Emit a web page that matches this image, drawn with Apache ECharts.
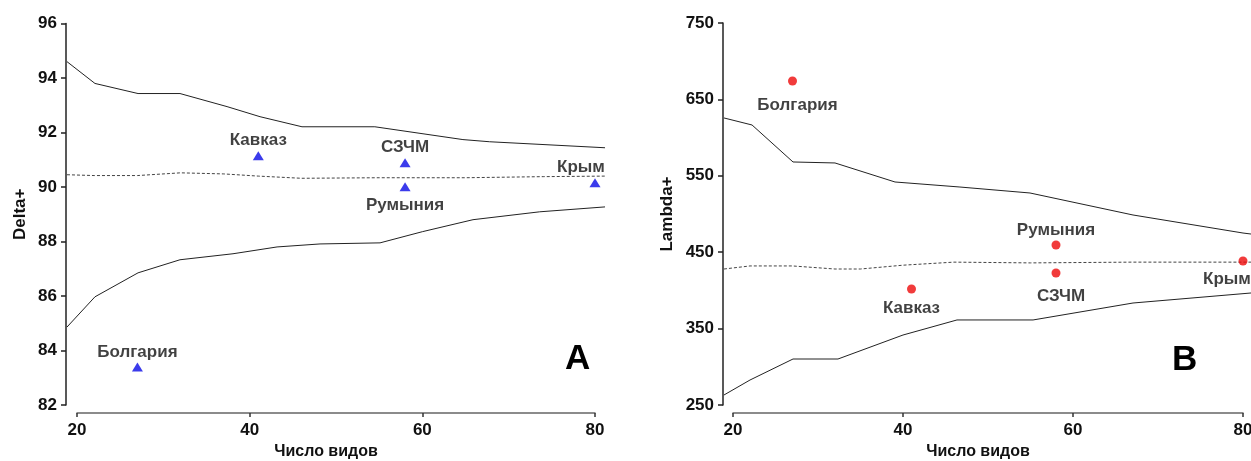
<!DOCTYPE html>
<html>
<head>
<meta charset="utf-8">
<title>Delta+ / Lambda+</title>
<script src="https://cdn.jsdelivr.net/npm/echarts@6/dist/echarts.min.js"></script>
<style>
    html, body { margin: 0; padding: 0; background: #fff; }
    #main { width: 1251px; height: 461px; }
</style>
</head>
<body>
<div id="main"></div>
<script>
// ---- данные ----
// A: Delta+
var deltaUpX = [18.84, 22.08, 27.07, 31.93, 37.38, 41.2, 46.06, 54.5, 64.7, 67.8, 81.16];
var deltaUpY = [94.6, 93.8, 93.43, 93.43, 92.95, 92.58, 92.21, 92.21, 91.74, 91.66, 91.44];
var deltaLoX = [18.84, 22.08, 27.07, 31.93, 38.07, 43.17, 48.15, 55.1, 60, 65.87, 73.6, 81.16];
var deltaLoY = [84.86, 85.97, 86.85, 87.33, 87.55, 87.8, 87.91, 87.95, 88.36, 88.8, 89.09, 89.27];
var deltaMeanX = [18.84, 22, 27, 32, 37, 41, 46, 55, 65, 74, 81.16];
var deltaMeanY = [90.45, 90.42, 90.42, 90.52, 90.48, 90.4, 90.32, 90.34, 90.34, 90.38, 90.4];
var deltaNames = ['Болгария', 'Кавказ', 'СЗЧМ', 'Румыния', 'Крым'];
var deltaX = [27, 41, 58, 58, 80];
var deltaY = [83.39, 91.15, 90.89, 90.01, 90.16];

// B: Lambda+
var lambdaUpX = [18.94, 22.24, 27.06, 32.0, 39.06, 46.7, 54.94, 67.06, 80, 80.94];
var lambdaUpY = [625.7, 616.5, 568.1, 566.8, 541.9, 535.3, 527.5, 498.7, 475.1, 473.8];
var lambdaLoX = [18.94, 22.0, 27.06, 32.35, 40, 46.35, 55.3, 67.06, 80.94];
var lambdaLoY = [263.1, 282.7, 310.2, 310.2, 341.6, 361.3, 361.3, 383.5, 396.6];
var lambdaMeanX = [18.94, 22, 27, 32, 35, 40, 46, 55, 67, 80.94];
var lambdaMeanY = [428, 432, 432, 428, 428, 433, 437, 436, 437, 437];
var lambdaNames = ['Болгария', 'Кавказ', 'Румыния', 'СЗЧМ', 'Крым'];
var lambdaX = [27, 41, 58, 58, 80];
var lambdaY = [674.1, 401.8, 459.4, 422.8, 438.5];

// подписи точек: [сторона, сдвиг по x, сдвиг по y]
var deltaLabelPos = {'Болгария': ['top', 0, 0], 'Кавказ': ['top', 0, 0], 'СЗЧМ': ['top', 0, 0], 'Румыния': ['bottom', 0, 4], 'Крым': ['top', -14, 0]};
var lambdaLabelPos = {'Болгария': ['bottom', 5, 9], 'Кавказ': ['bottom', 0, 4], 'Румыния': ['top', 0, 0], 'СЗЧМ': ['bottom', 5, 8], 'Крым': ['bottom', -16, 3]};

var FONT = 'Liberation Sans, Arial, sans-serif';

function pairs(xs, ys) {
    var out = [];
    for (var i = 0; i < xs.length; i++) out.push([xs[i], ys[i]]);
    return out;
}

function points(names, xs, ys, pos) {
    var out = [];
    for (var i = 0; i < names.length; i++) {
        var p = pos[names[i]];
        out.push({
            name: names[i],
            value: [xs[i], ys[i]],
            label: {position: p[0], offset: [p[1], p[2]]}
        });
    }
    return out;
}

function lineSeries(idx, data, dashed) {
    return {
        type: 'line',
        xAxisIndex: idx,
        yAxisIndex: idx,
        data: data,
        showSymbol: false,
        silent: true,
        lineStyle: {
            color: dashed ? '#444' : '#222',
            width: 1,
            type: dashed ? [3, 2] : 'solid'
        },
        z: 2
    };
}

// видимая ось X (сдвинута вниз и начинается с 20, как на рисунке)
function xAxisShown(gridIdx) {
    return {
        type: 'value',
        gridIndex: gridIdx,
        min: 20, max: 80, interval: 20,
        offset: 8,
        name: 'Число видов',
        nameLocation: 'middle',
        nameGap: 31,
        nameTextStyle: {fontFamily: FONT, fontWeight: 'bold', fontSize: 16, color: '#111', padding: [0, 20, 0, 0]},
        axisLine: {onZero: false, lineStyle: {color: '#666', width: 1.5}},
        axisTick: {length: 4, lineStyle: {color: '#333', width: 1.5}},
        axisLabel: {fontFamily: FONT, fontWeight: 'bold', fontSize: 17, color: '#111', margin: 9},
        splitLine: {show: false}
    };
}

// скрытая ось X для данных (чуть шире, линии доходят до оси Y)
function xAxisData(gridIdx, min, max) {
    return {type: 'value', gridIndex: gridIdx, min: min, max: max, show: false, splitLine: {show: false}};
}

function yAxisOpt(gridIdx, name, min, max, interval, gap) {
    return {
        type: 'value',
        gridIndex: gridIdx,
        min: min, max: max, interval: interval,
        name: name,
        nameLocation: 'middle',
        nameGap: gap,
        nameRotate: 90,
        nameTextStyle: {fontFamily: FONT, fontWeight: 'bold', fontSize: 17, color: '#111'},
        axisLine: {show: true, lineStyle: {color: '#222', width: 1.5}},
        axisTick: {show: true, length: 5, lineStyle: {color: '#222', width: 1.5}},
        axisLabel: {fontFamily: FONT, fontWeight: 'bold', fontSize: 17, color: '#111', margin: 9},
        splitLine: {show: false}
    };
}

function yAxisHidden(gridIdx) {
    return {type: 'value', gridIndex: gridIdx, min: 0, max: 1, show: false, splitLine: {show: false}};
}

var myChart = echarts.init(document.getElementById('main'), null, {renderer: 'canvas'});

var option = {
    backgroundColor: '#fff',
    animation: false,
    grid: [
        {left: 66, width: 540, top: 23.5, height: 381.5, outerBoundsMode: 'none'},   // A, данные
        {left: 723, width: 528, top: 23, height: 382, outerBoundsMode: 'none'},      // B, данные
        {left: 77, width: 518, top: 23.5, height: 381.5, outerBoundsMode: 'none'},   // A, ось X
        {left: 733, width: 510, top: 23, height: 382, outerBoundsMode: 'none'}       // B, ось X
    ],
    xAxis: [
        xAxisData(0, 18.726, 81.274),
        xAxisData(1, 18.824, 80.941),
        xAxisShown(2),
        xAxisShown(3)
    ],
    yAxis: [
        yAxisOpt(0, 'Delta+', 82, 96, 2, 37),
        yAxisOpt(1, 'Lambda+', 250, 750, 100, 47),
        yAxisHidden(2),
        yAxisHidden(3)
    ],
    graphic: [
        {type: 'text', left: 565, top: 342, style: {text: 'A', font: 'bold 35px ' + FONT, fill: '#000'}},
        {type: 'text', left: 1172, top: 343, style: {text: 'B', font: 'bold 35px ' + FONT, fill: '#000'}}
    ],
    series: [
        lineSeries(0, pairs(deltaUpX, deltaUpY), false),
        lineSeries(0, pairs(deltaLoX, deltaLoY), false),
        lineSeries(0, pairs(deltaMeanX, deltaMeanY), true),
        {
            type: 'scatter',
            xAxisIndex: 0, yAxisIndex: 0,
            symbol: 'triangle',
            symbolSize: [11, 9],
            itemStyle: {color: '#0a0ae6'},
            data: points(deltaNames, deltaX, deltaY, deltaLabelPos),
            label: {show: true, formatter: '{b}', fontFamily: FONT, fontWeight: 'bold', fontSize: 17, color: '#111', distance: 2},
            z: 3
        },
        lineSeries(1, pairs(lambdaUpX, lambdaUpY), false),
        lineSeries(1, pairs(lambdaLoX, lambdaLoY), false),
        lineSeries(1, pairs(lambdaMeanX, lambdaMeanY), true),
        {
            type: 'scatter',
            xAxisIndex: 1, yAxisIndex: 1,
            symbol: 'circle',
            symbolSize: 9,
            itemStyle: {color: '#ee0a0a'},
            data: points(lambdaNames, lambdaX, lambdaY, lambdaLabelPos),
            label: {show: true, formatter: '{b}', fontFamily: FONT, fontWeight: 'bold', fontSize: 17, color: '#111', distance: 2},
            z: 3
        }
    ]
};

myChart.setOption(option);
</script>
</body>
</html>
